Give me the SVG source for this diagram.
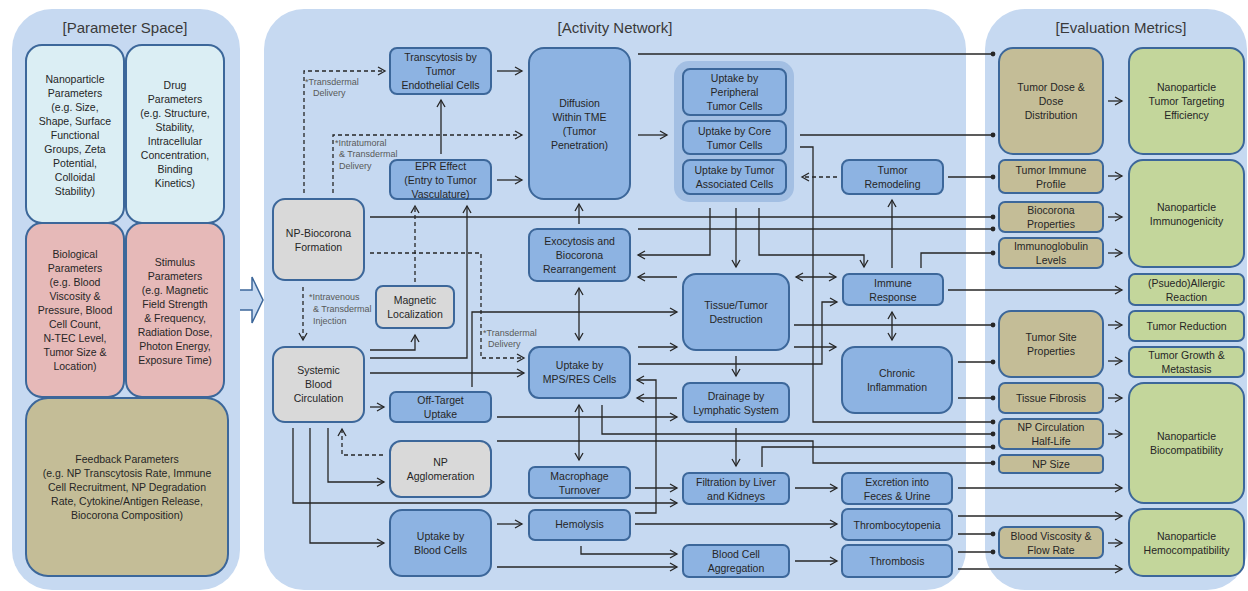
<svg xmlns="http://www.w3.org/2000/svg" width="1248" height="591" viewBox="0 0 1248 591">
<style>
.panel{fill:#c6d9f1}
.ttl{font-family:"Liberation Sans",Arial,sans-serif;font-size:15px;fill:#3a3a3a;text-anchor:middle;dominant-baseline:central}
.t{font-family:"Liberation Sans",Arial,sans-serif;font-size:10.5px;fill:#262626;text-anchor:middle;dominant-baseline:central}
.lbl{font-family:"Liberation Sans",Arial,sans-serif;font-size:9px;fill:#595959;dominant-baseline:central}
.n{stroke:#3c679a;stroke-width:2}
.blue{fill:#8db3e2}
.grey{fill:#d9d9d9}
.cyan{fill:#dbeef4}
.pink{fill:#e6b9b8}
.tan{fill:#c4bd97}
.green{fill:#c3d69b}
.grp{fill:#a3bfe3}
#connectors path{fill:none;stroke:#262626;stroke-width:1.3}
#connectors .a{marker-end:url(#ah)}
#connectors .d{marker-end:url(#dot)}
#connectors .b{marker-start:url(#ah);marker-end:url(#ah)}
#connectors .dash{stroke-dasharray:4 3}
</style>
<defs>
<marker id="ah" markerUnits="userSpaceOnUse" markerWidth="10" markerHeight="10" refX="8" refY="4.5" orient="auto-start-reverse" viewBox="0 0 10 9">
<path d="M1,0.5 L8,4.5 L1,8.5" fill="none" stroke="#262626" stroke-width="1.3"/>
</marker>
<marker id="dot" markerUnits="userSpaceOnUse" markerWidth="6" markerHeight="6" refX="3" refY="3" viewBox="0 0 6 6">
<circle cx="3" cy="3" r="2.4" fill="#262626"/>
</marker>
</defs>
<rect width="1248" height="591" fill="#ffffff"/>

<!-- background panels -->
<g id="panels">
<rect class="panel" x="12" y="9" width="228" height="581" rx="40"/>
<rect class="panel" x="264" y="9" width="702" height="581" rx="40"/>
<rect class="panel" x="985" y="9" width="262" height="581" rx="40"/>
<text class="ttl" x="125" y="27">[Parameter Space]</text>
<text class="ttl" x="615" y="27">[Activity Network]</text>
<text class="ttl" x="1121" y="27">[Evaluation Metrics]</text>
<path d="M240,290 H252 V277 L263,300 L252,323 V310 H240" fill="#c6d9f1" stroke="#3c679a" stroke-width="1.5"/>
<rect class="grp" x="674" y="61" width="120" height="141" rx="15"/>
</g>

<!-- parameter space -->
<g id="n-np-params"><rect class="n cyan" x="26" y="45" width="98" height="178" rx="16"/>
<text class="t"><tspan x="75" y="79">Nanoparticle</tspan><tspan x="75" y="93">Parameters</tspan><tspan x="75" y="107">(e.g. Size,</tspan><tspan x="75" y="121">Shape, Surface</tspan><tspan x="75" y="135">Functional</tspan><tspan x="75" y="149">Groups, Zeta</tspan><tspan x="75" y="163">Potential,</tspan><tspan x="75" y="177">Colloidal</tspan><tspan x="75" y="191">Stability)</tspan></text></g>
<g id="n-drug-params"><rect class="n cyan" x="126" y="45" width="98" height="178" rx="16"/>
<text class="t"><tspan x="175" y="85">Drug</tspan><tspan x="175" y="99">Parameters</tspan><tspan x="175" y="113">(e.g. Structure,</tspan><tspan x="175" y="127">Stability,</tspan><tspan x="175" y="141">Intracellular</tspan><tspan x="175" y="155">Concentration,</tspan><tspan x="175" y="169">Binding</tspan><tspan x="175" y="183">Kinetics)</tspan></text></g>
<g id="n-bio-params"><rect class="n pink" x="26" y="223" width="98" height="174" rx="16"/>
<text class="t"><tspan x="75" y="254">Biological</tspan><tspan x="75" y="268">Parameters</tspan><tspan x="75" y="282">(e.g. Blood</tspan><tspan x="75" y="296">Viscosity &amp;</tspan><tspan x="75" y="310">Pressure, Blood</tspan><tspan x="75" y="324">Cell Count,</tspan><tspan x="75" y="338">N-TEC Level,</tspan><tspan x="75" y="352">Tumor Size &amp;</tspan><tspan x="75" y="366">Location)</tspan></text></g>
<g id="n-stim-params"><rect class="n pink" x="126" y="223" width="98" height="174" rx="16"/>
<text class="t"><tspan x="175" y="262">Stimulus</tspan><tspan x="175" y="276">Parameters</tspan><tspan x="175" y="290">(e.g. Magnetic</tspan><tspan x="175" y="304">Field Strength</tspan><tspan x="175" y="318">&amp; Frequency,</tspan><tspan x="175" y="332">Radiation Dose,</tspan><tspan x="175" y="346">Photon Energy,</tspan><tspan x="175" y="360">Exposure Time)</tspan></text></g>
<g id="n-feedback-params"><rect class="n tan" x="26" y="398" width="202" height="178" rx="22"/>
<text class="t"><tspan x="127" y="459">Feedback Parameters</tspan><tspan x="127" y="473">(e.g. NP Transcytosis Rate, Immune</tspan><tspan x="127" y="487">Cell Recruitment, NP Degradation</tspan><tspan x="127" y="501">Rate, Cytokine/Antigen Release,</tspan><tspan x="127" y="515">Biocorona Composition)</tspan></text></g>

<!-- connectors -->
<g id="connectors">
<path class="a" d="M497,71 H522"/>
<path class="a" d="M497,180 H522"/>
<path class="a" d="M441,154 V100"/>
<path class="a dash" d="M304,193 V71 H385"/>
<path class="a dash" d="M333,193 V135 H522"/>
<path class="a" d="M638,135 H667"/>
<path class="d" d="M638,54 H993"/>
<path class="d" d="M800,135 H993"/>
<path class="d" d="M800,147 H813 V422 H993"/>
<path class="a dash" d="M837,177 H802"/>
<path class="d" d="M948,177 H993"/>
<path class="d" d="M370,217 H993"/>
<path class="a" d="M579,224 V204"/>
<path class="d" d="M638,229 H993"/>
<path class="a" d="M710,208 V255 H638"/>
<path class="a" d="M736,208 V267"/>
<path class="a" d="M759,208 V255 H864 V267"/>
<path class="a" d="M677,277 H638"/>
<path class="b" d="M796,277 H836"/>
<path class="a" d="M892,268 V200"/>
<path class="d" d="M921,268 V253 H993"/>
<path class="a" d="M948,290 H1122"/>
<path class="b" d="M892,312 V340"/>
<path class="d" d="M794,325 H993"/>
<path class="a" d="M794,347 H836"/>
<path class="a" d="M638,364 H822 V302 H837"/>
<path class="a" d="M638,347 H677"/>
<path class="a" d="M472,387 V312 H677"/>
<path class="a" d="M497,417 H677"/>
<path class="a" d="M736,356 V376"/>
<path class="a" d="M677,398 H637"/>
<path class="a" d="M635,513 H656 V380 H637"/>
<path class="b" d="M579,288 V340"/>
<path class="b" d="M579,405 V460"/>
<path class="d" d="M602,405 V434 H993"/>
<path class="d" d="M497,441 H813 V463 H993"/>
<path class="a" d="M736,428 V466"/>
<path class="d" d="M762,467 V447 H993"/>
<path class="a" d="M635,488 H677"/>
<path class="a" d="M293,428 V503 H677"/>
<path class="a" d="M310,428 V543 H384"/>
<path class="a" d="M328,428 V482 H384"/>
<path class="a dash" d="M383,455 H342 V429"/>
<path class="a" d="M370,407 H384"/>
<path class="a" d="M370,373 H524"/>
<path class="a" d="M370,358 H467 V206"/>
<path class="a" d="M370,350 H415 V335"/>
<path class="a dash" d="M415,282 V206"/>
<path class="a dash" d="M303,287 V340"/>
<path class="a dash" d="M370,253 H481 V358 H524"/>
<path class="a" d="M497,524 H522"/>
<path class="a" d="M497,567 H677"/>
<path class="a" d="M581,546 V554 H677"/>
<path class="a" d="M635,524 H837"/>
<path class="a" d="M795,488 H837"/>
<path class="a" d="M795,561 H837"/>
<path class="a" d="M958,488 H1122"/>
<path class="a" d="M958,516 H1122"/>
<path class="d" d="M958,534 H993"/>
<path class="d" d="M958,552 H993"/>
<path class="a" d="M958,569 H1122"/>
<path class="d" d="M958,362 H993"/>
<path class="d" d="M958,398 H993"/>
<path class="a" d="M1108,101 H1122"/>
<path class="a" d="M1108,176 H1122"/>
<path class="a" d="M1108,217 H1122"/>
<path class="a" d="M1108,253 H1122"/>
<path class="a" d="M1108,325 H1122"/>
<path class="a" d="M1108,361 H1122"/>
<path class="a" d="M1108,398 H1122"/>
<path class="a" d="M1108,434 H1122"/>
<path class="a" d="M1108,543 H1122"/>
</g>

<!-- delivery route labels -->
<g id="route-labels">
<text class="lbl"><tspan x="305" y="82">*Transdermal</tspan><tspan x="313" y="93">Delivery</tspan></text>
<text class="lbl"><tspan x="335" y="143">*Intratumoral</tspan><tspan x="339" y="154">&amp; Transdermal</tspan><tspan x="339" y="166">Delivery</tspan></text>
<text class="lbl"><tspan x="309" y="297">*Intravenous</tspan><tspan x="313" y="309">&amp; Transdermal</tspan><tspan x="313" y="321">Injection</tspan></text>
<text class="lbl"><tspan x="483" y="333">*Transdermal</tspan><tspan x="488" y="344">Delivery</tspan></text>
</g>

<!-- activity network nodes -->
<g id="n-transcytosis"><rect class="n blue" x="390" y="48" width="101" height="46" rx="7"/>
<text class="t"><tspan x="440.5" y="57">Transcytosis by</tspan><tspan x="440.5" y="71">Tumor</tspan><tspan x="440.5" y="85">Endothelial Cells</tspan></text></g>
<g id="n-diffusion"><rect class="n blue" x="529" y="48" width="101" height="151" rx="15"/>
<text class="t"><tspan x="579.5" y="103">Diffusion</tspan><tspan x="579.5" y="117">Within TME</tspan><tspan x="579.5" y="131">(Tumor</tspan><tspan x="579.5" y="145">Penetration)</tspan></text></g>
<g id="n-epr"><rect class="n blue" x="390" y="160" width="101" height="39" rx="7"/>
<text class="t"><tspan x="440.5" y="165.5">EPR Effect</tspan><tspan x="440.5" y="180">(Entry to Tumor</tspan><tspan x="440.5" y="194">Vasculature)</tspan></text></g>
<g id="n-biocorona"><rect class="n grey" x="273" y="199" width="91" height="81" rx="12"/>
<text class="t"><tspan x="318.5" y="233">NP-Biocorona</tspan><tspan x="318.5" y="247">Formation</tspan></text></g>
<g id="n-exocytosis"><rect class="n blue" x="529" y="229" width="101" height="52" rx="8"/>
<text class="t"><tspan x="579.5" y="241">Exocytosis and</tspan><tspan x="579.5" y="255">Biocorona</tspan><tspan x="579.5" y="269">Rearrangement</tspan></text></g>
<g id="n-magnetic"><rect class="n grey" x="376" y="286" width="78" height="42" rx="7"/>
<text class="t"><tspan x="415" y="300">Magnetic</tspan><tspan x="415" y="314">Localization</tspan></text></g>
<g id="n-systemic"><rect class="n grey" x="273" y="347" width="91" height="75" rx="12"/>
<text class="t"><tspan x="318.5" y="370">Systemic</tspan><tspan x="318.5" y="384">Blood</tspan><tspan x="318.5" y="398">Circulation</tspan></text></g>
<g id="n-mps"><rect class="n blue" x="529" y="347" width="101" height="51" rx="10"/>
<text class="t"><tspan x="579.5" y="365">Uptake by</tspan><tspan x="579.5" y="379">MPS/RES Cells</tspan></text></g>
<g id="n-offtarget"><rect class="n blue" x="390" y="392" width="101" height="30" rx="6"/>
<text class="t"><tspan x="440.5" y="400">Off-Target</tspan><tspan x="440.5" y="414">Uptake</tspan></text></g>
<g id="n-agglomeration"><rect class="n grey" x="390" y="441" width="101" height="56" rx="11"/>
<text class="t"><tspan x="440.5" y="462">NP</tspan><tspan x="440.5" y="476">Agglomeration</tspan></text></g>
<g id="n-macrophage"><rect class="n blue" x="529" y="467" width="101" height="31" rx="6"/>
<text class="t"><tspan x="579.5" y="475.5">Macrophage</tspan><tspan x="579.5" y="489.5">Turnover</tspan></text></g>
<g id="n-bloodcells"><rect class="n blue" x="390" y="510" width="101" height="66" rx="12"/>
<text class="t"><tspan x="440.5" y="536">Uptake by</tspan><tspan x="440.5" y="550">Blood Cells</tspan></text></g>
<g id="n-hemolysis"><rect class="n blue" x="529" y="510" width="101" height="30" rx="6"/>
<text class="t" x="579.5" y="524">Hemolysis</text></g>
<g id="n-peripheral"><rect class="n blue" x="683" y="69" width="103" height="46" rx="7"/>
<text class="t"><tspan x="734.5" y="78">Uptake by</tspan><tspan x="734.5" y="92">Peripheral</tspan><tspan x="734.5" y="106">Tumor Cells</tspan></text></g>
<g id="n-core"><rect class="n blue" x="683" y="121" width="103" height="33" rx="7"/>
<text class="t"><tspan x="734.5" y="130.5">Uptake by Core</tspan><tspan x="734.5" y="144.5">Tumor Cells</tspan></text></g>
<g id="n-associated"><rect class="n blue" x="683" y="160" width="103" height="34" rx="7"/>
<text class="t"><tspan x="734.5" y="170">Uptake by Tumor</tspan><tspan x="734.5" y="184">Associated Cells</tspan></text></g>
<g id="n-remodeling"><rect class="n blue" x="842" y="160" width="101" height="34" rx="7"/>
<text class="t"><tspan x="892.5" y="170">Tumor</tspan><tspan x="892.5" y="184">Remodeling</tspan></text></g>
<g id="n-immune"><rect class="n blue" x="843" y="274" width="100" height="31" rx="6"/>
<text class="t"><tspan x="893" y="283">Immune</tspan><tspan x="893" y="297">Response</tspan></text></g>
<g id="n-destruction"><rect class="n blue" x="683" y="274" width="106" height="76" rx="13"/>
<text class="t"><tspan x="736" y="305">Tissue/Tumor</tspan><tspan x="736" y="319">Destruction</tspan></text></g>
<g id="n-inflammation"><rect class="n blue" x="842" y="347" width="110" height="66" rx="13"/>
<text class="t"><tspan x="897" y="373">Chronic</tspan><tspan x="897" y="387">Inflammation</tspan></text></g>
<g id="n-drainage"><rect class="n blue" x="683" y="383" width="106" height="39" rx="7"/>
<text class="t"><tspan x="736" y="395.5">Drainage by</tspan><tspan x="736" y="409.5">Lymphatic System</tspan></text></g>
<g id="n-filtration"><rect class="n blue" x="683" y="473" width="106" height="31" rx="6"/>
<text class="t"><tspan x="736" y="481.5">Filtration by Liver</tspan><tspan x="736" y="495.5">and Kidneys</tspan></text></g>
<g id="n-excretion"><rect class="n blue" x="842" y="473" width="110" height="31" rx="6"/>
<text class="t"><tspan x="897" y="481.5">Excretion into</tspan><tspan x="897" y="495.5">Feces &amp; Urine</tspan></text></g>
<g id="n-thrombocytopenia"><rect class="n blue" x="842" y="509" width="110" height="31" rx="6"/>
<text class="t" x="897" y="524.5">Thrombocytopenia</text></g>
<g id="n-aggregation"><rect class="n blue" x="683" y="545" width="106" height="32" rx="6"/>
<text class="t"><tspan x="736" y="554">Blood Cell</tspan><tspan x="736" y="568">Aggregation</tspan></text></g>
<g id="n-thrombosis"><rect class="n blue" x="842" y="545" width="110" height="32" rx="6"/>
<text class="t" x="897" y="561">Thrombosis</text></g>

<!-- evaluation metrics nodes -->
<g id="n-tumordose"><rect class="n tan" x="999" y="48" width="104" height="106" rx="14"/>
<text class="t"><tspan x="1051" y="87">Tumor Dose &amp;</tspan><tspan x="1051" y="101">Dose</tspan><tspan x="1051" y="115">Distribution</tspan></text></g>
<g id="n-targeting"><rect class="n green" x="1129" y="48" width="115" height="106" rx="14"/>
<text class="t"><tspan x="1186.5" y="87">Nanoparticle</tspan><tspan x="1186.5" y="101">Tumor Targeting</tspan><tspan x="1186.5" y="115">Efficiency</tspan></text></g>
<g id="n-immuneprofile"><rect class="n tan" x="999" y="160" width="104" height="33" rx="6"/>
<text class="t"><tspan x="1051" y="170">Tumor Immune</tspan><tspan x="1051" y="184">Profile</tspan></text></g>
<g id="n-biocorona-props"><rect class="n tan" x="999" y="202" width="104" height="30" rx="6"/>
<text class="t"><tspan x="1051" y="210">Biocorona</tspan><tspan x="1051" y="224">Properties</tspan></text></g>
<g id="n-immunoglobulin"><rect class="n tan" x="999" y="238" width="104" height="30" rx="6"/>
<text class="t"><tspan x="1051" y="246">Immunoglobulin</tspan><tspan x="1051" y="260">Levels</tspan></text></g>
<g id="n-immunogenicity"><rect class="n green" x="1129" y="160" width="115" height="107" rx="14"/>
<text class="t"><tspan x="1186.5" y="207">Nanoparticle</tspan><tspan x="1186.5" y="221">Immunogenicity</tspan></text></g>
<g id="n-allergic"><rect class="n green" x="1129" y="274" width="115" height="31" rx="6"/>
<text class="t"><tspan x="1186.5" y="282.5">(Psuedo)Allergic</tspan><tspan x="1186.5" y="296.5">Reaction</tspan></text></g>
<g id="n-tumorsite"><rect class="n tan" x="999" y="311" width="104" height="66" rx="12"/>
<text class="t"><tspan x="1051" y="337">Tumor Site</tspan><tspan x="1051" y="351">Properties</tspan></text></g>
<g id="n-reduction"><rect class="n green" x="1129" y="311" width="115" height="30" rx="6"/>
<text class="t" x="1186.5" y="326">Tumor Reduction</text></g>
<g id="n-metastasis"><rect class="n green" x="1129" y="347" width="115" height="30" rx="6"/>
<text class="t"><tspan x="1186.5" y="355">Tumor Growth &amp;</tspan><tspan x="1186.5" y="369">Metastasis</tspan></text></g>
<g id="n-fibrosis"><rect class="n tan" x="999" y="383" width="104" height="30" rx="6"/>
<text class="t" x="1051" y="398">Tissue Fibrosis</text></g>
<g id="n-halflife"><rect class="n tan" x="999" y="419" width="104" height="30" rx="6"/>
<text class="t"><tspan x="1051" y="427">NP Circulation</tspan><tspan x="1051" y="441">Half-Life</tspan></text></g>
<g id="n-npsize"><rect class="n tan" x="999" y="455" width="104" height="18" rx="4"/>
<text class="t" x="1051" y="464">NP Size</text></g>
<g id="n-biocompatibility"><rect class="n green" x="1129" y="383" width="115" height="120" rx="15"/>
<text class="t"><tspan x="1186.5" y="436">Nanoparticle</tspan><tspan x="1186.5" y="450">Biocompatibility</tspan></text></g>
<g id="n-viscosity"><rect class="n tan" x="999" y="527" width="104" height="31" rx="6"/>
<text class="t"><tspan x="1051" y="535.5">Blood Viscosity &amp;</tspan><tspan x="1051" y="549.5">Flow Rate</tspan></text></g>
<g id="n-hemocompatibility"><rect class="n green" x="1129" y="509" width="115" height="67" rx="14"/>
<text class="t"><tspan x="1186.5" y="536">Nanoparticle</tspan><tspan x="1186.5" y="550">Hemocompatibility</tspan></text></g>
</svg>
